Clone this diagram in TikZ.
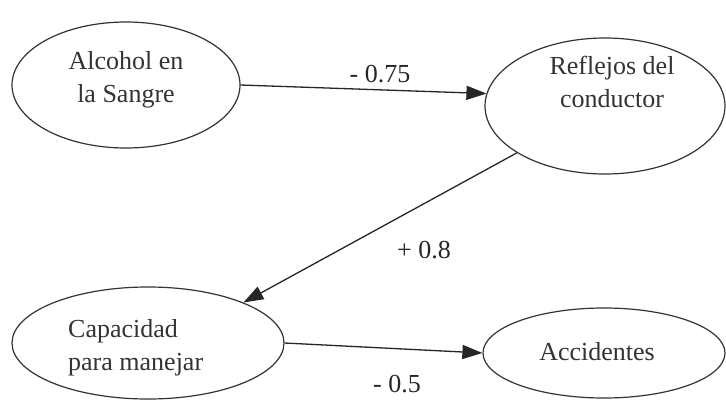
\documentclass[tikz,border=0pt]{standalone}
\usepackage{fontspec}
\setmainfont{Liberation Serif}
\usetikzlibrary{shapes.geometric,arrows.meta}
\begin{document}
\begin{tikzpicture}[x=1pt,y=-1pt,
  oval/.style={ellipse,draw=black!80,line width=1.2pt,inner sep=0pt},
  txt/.style={inner sep=0pt,text=black!80,font=\fontsize{26}{33}\selectfont,align=center},
  lbl/.style={inner sep=0pt,text=black!85,font=\fontsize{26}{33}\selectfont},
  conn/.style={draw=black!85,line width=1.3pt,-{Triangle[length=20pt,width=14pt]}}]
\useasboundingbox[fill=white] (0,0) rectangle (726,402);
\node[oval,minimum width=228pt,minimum height=126pt] (alc) at (126,85) {};
\node[oval,minimum width=240pt,minimum height=136pt] (refl) at (605,106) {};
\node[oval,minimum width=272pt,minimum height=112pt] (cap) at (148,343) {};
\node[oval,minimum width=242pt,minimum height=90pt] (acc) at (604,353) {};
\node[txt] (talc) at (126,80) {Alcohol en\\la Sangre};
\node[txt] (trefl) at (612,82) {Reflejos del\\conductor};
\node[txt,align=left,anchor=west] (tcap) at (68,348) {Capacidad\\para manejar};
\node[txt] (tacc) at (597,352) {Accidentes};
\draw[conn] (alc.east) -- (refl.174);
\draw[conn] (refl.208) -- (cap.23);
\draw[conn] (cap.east) -- (acc.west);
\node[lbl] (l1) at (380,74) {- 0.75};
\node[lbl] (l2) at (424,250) {+ 0.8};
\node[lbl,anchor=south] (l3) at (397,393) {- 0.5};
\end{tikzpicture}
\end{document}
